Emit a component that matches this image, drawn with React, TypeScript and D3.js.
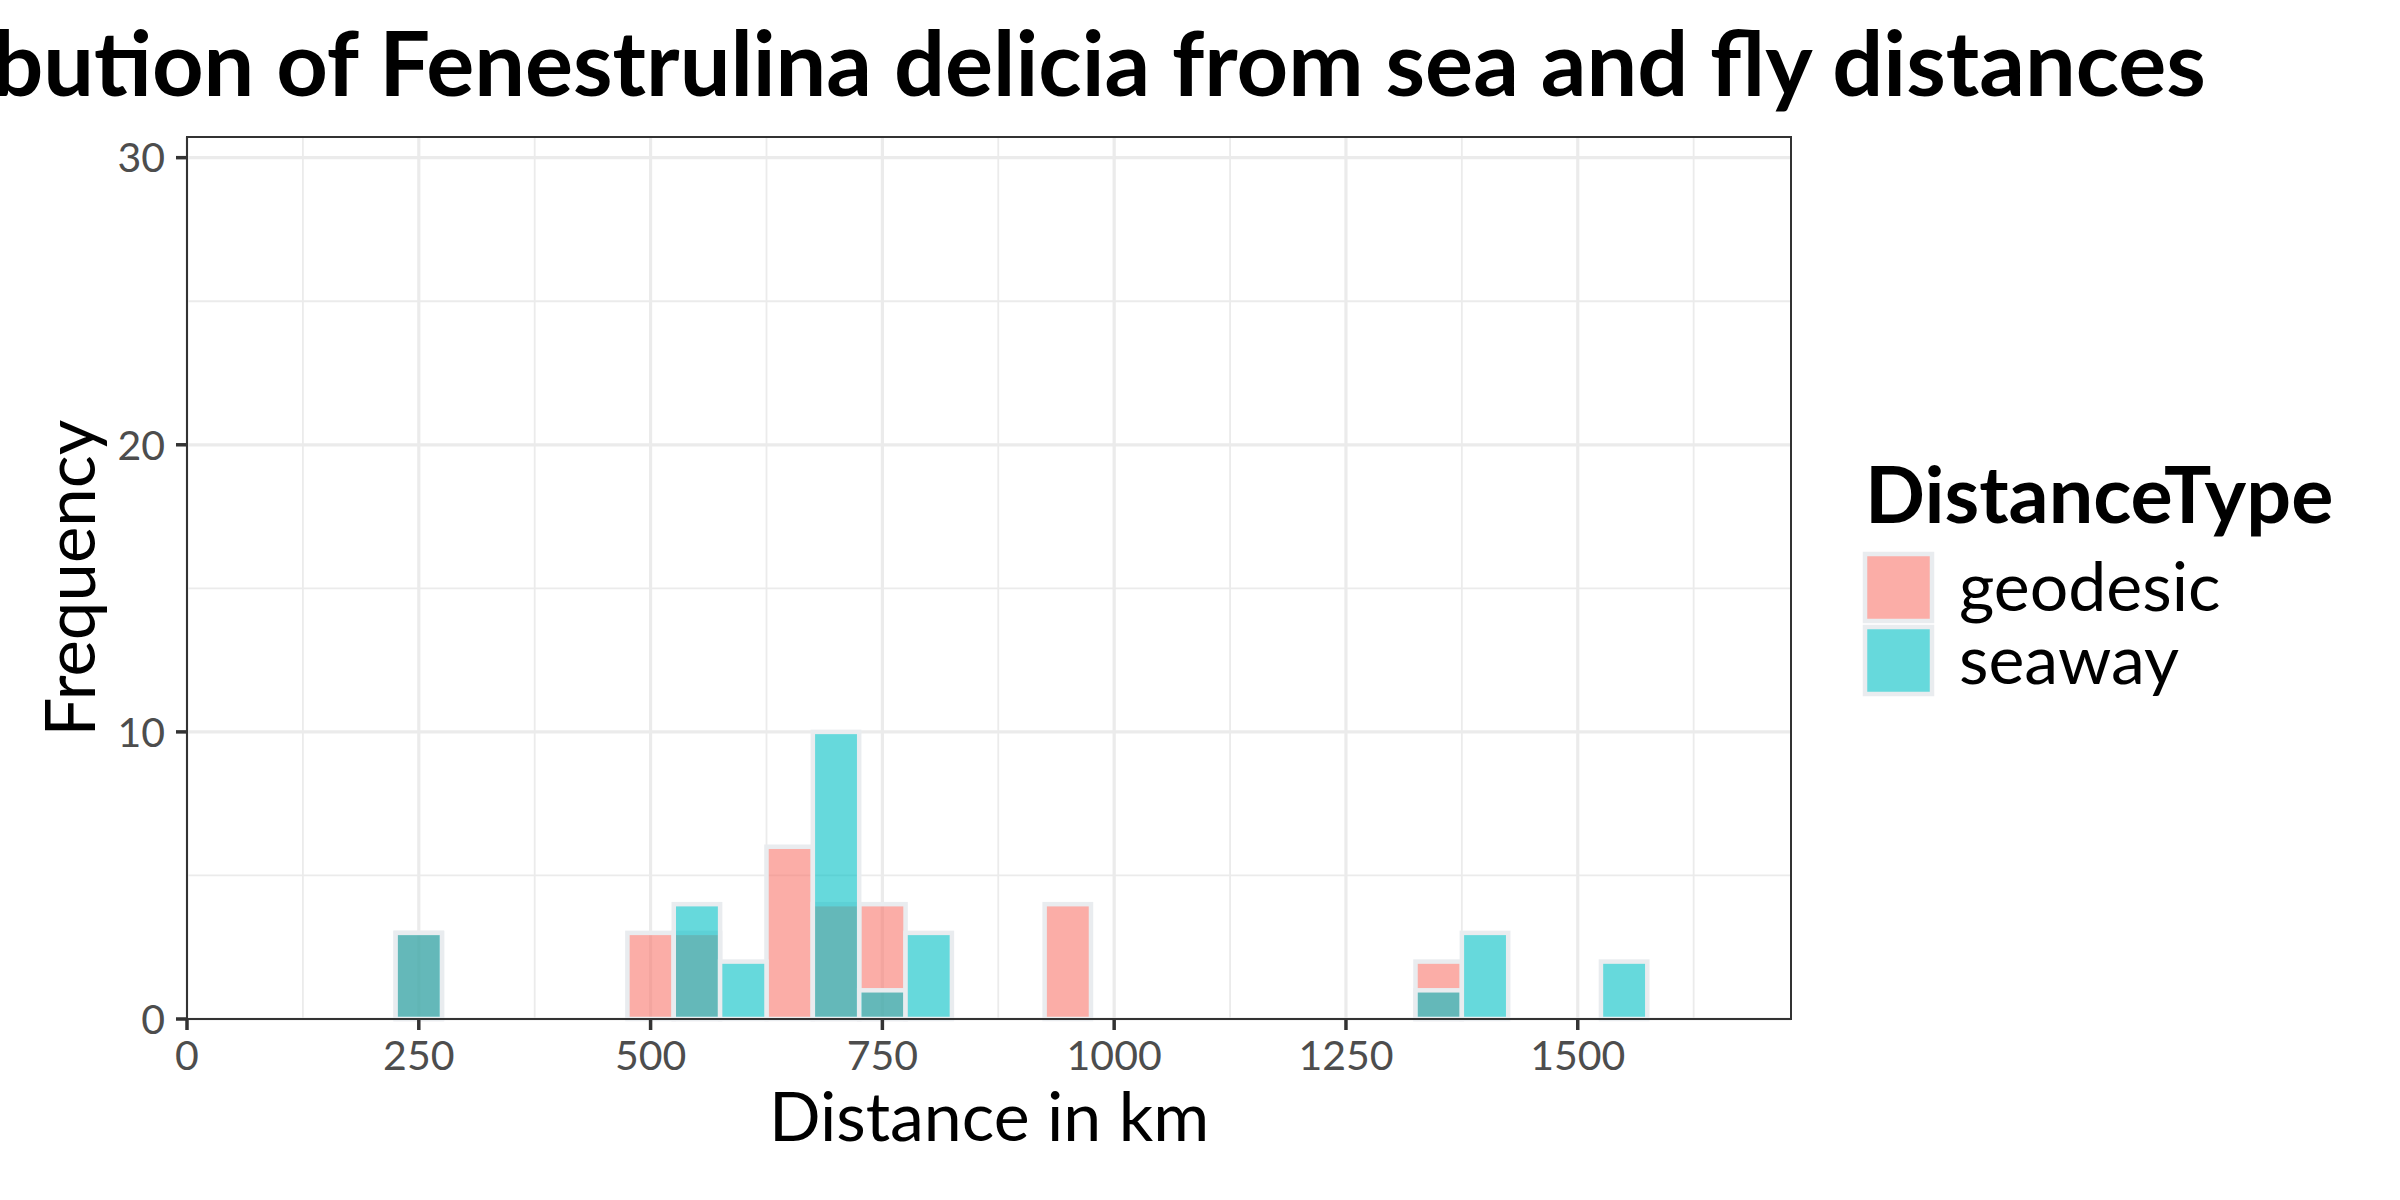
import * as d3 from "d3";

const binCenters = [250, 500, 550, 600, 650, 700, 750, 800, 950, 1350, 1400, 1550];
const geodesicCounts = [3, 3, 3, 0, 6, 4, 4, 0, 4, 2, 0, 0];
const seawayCounts = [3, 0, 4, 2, 0, 10, 1, 3, 0, 1, 3, 2];
const binWidth = 50;
const seriesNames = ["geodesic", "seaway"];
const seriesColors = ["#F8766D", "#00BFC4"];
const xTicks = [0, 250, 500, 750, 1000, 1250, 1500];
const yTicks = [0, 10, 20, 30];

const W = 2400;
const H = 1200;
const panel = { left: 187, right: 1791, top: 137, bottom: 1019 };
const font = "Lato, 'Noto Sans', sans-serif";

export default function App() {
  const x = d3.scaleLinear().domain([0, 1730]).range([panel.left, panel.right]);
  const y = d3.scaleLinear().domain([0, 30.72]).range([panel.bottom, panel.top]);
  const xMinor = d3.range(125, 1730, 250);
  const yMinor = [5, 15, 25];
  const color = d3.scaleOrdinal<string, string>().domain(seriesNames).range(seriesColors);
  const series = [
    { name: "geodesic", counts: geodesicCounts },
    { name: "seaway", counts: seawayCounts },
  ];
  const cx = (panel.left + panel.right) / 2;
  const cy = (panel.top + panel.bottom) / 2;

  return (
    <div style={{ position: "absolute", left: 0, top: 0 }}>
      <svg width={W} height={H} viewBox={`0 0 ${W} ${H}`} style={{ display: "block", background: "#fff" }}>
        <rect x={0} y={0} width={W} height={H} fill="#fff" />
        <text x={cx} y={96} textAnchor="middle" fontFamily={font} fontWeight={700} fontSize={90} fill="#000">
          Distribution of Fenestrulina delicia from sea and fly distances
        </text>

        {/* grid: minor first, then major */}
        <g>
          {yMinor.map((v) => (
            <line key={`ym${v}`} x1={panel.left} x2={panel.right} y1={y(v)} y2={y(v)} stroke="#EBEBEB" strokeWidth={1.8} />
          ))}
          {xMinor.map((v) => (
            <line key={`xm${v}`} y1={panel.top} y2={panel.bottom} x1={x(v)} x2={x(v)} stroke="#EBEBEB" strokeWidth={1.8} />
          ))}
          {yTicks.map((v) => (
            <line key={`yM${v}`} x1={panel.left} x2={panel.right} y1={y(v)} y2={y(v)} stroke="#EBEBEB" strokeWidth={3.2} />
          ))}
          {xTicks.map((v) => (
            <line key={`xM${v}`} y1={panel.top} y2={panel.bottom} x1={x(v)} x2={x(v)} stroke="#EBEBEB" strokeWidth={3.2} />
          ))}
        </g>

        {series.map((s) => (
          <g key={s.name}>
            {binCenters.map((c, i) =>
              s.counts[i] > 0 ? (
                <rect
                  key={c}
                  x={x(c - binWidth / 2)}
                  width={x(c + binWidth / 2) - x(c - binWidth / 2)}
                  y={y(s.counts[i])}
                  height={y(0) - y(s.counts[i])}
                  fill={color(s.name)}
                  fillOpacity={0.6}
                  stroke="#E9ECEF"
                  strokeWidth={4.5}
                />
              ) : null
            )}
          </g>
        ))}

        <rect
          x={panel.left}
          y={panel.top}
          width={panel.right - panel.left}
          height={panel.bottom - panel.top}
          fill="none"
          stroke="#333333"
          strokeWidth={2}
        />

        {xTicks.map((v) => (
          <g key={`xt${v}`}>
            <line x1={x(v)} x2={x(v)} y1={panel.bottom} y2={panel.bottom + 11} stroke="#333333" strokeWidth={3.5} />
            <text x={x(v)} y={1070} textAnchor="middle" fontFamily={font} fontSize={41} fill="#4D4D4D">
              {v}
            </text>
          </g>
        ))}
        {yTicks.map((v) => (
          <g key={`yt${v}`}>
            <line x1={panel.left - 11} x2={panel.left} y1={y(v)} y2={y(v)} stroke="#333333" strokeWidth={3.5} />
            <text x={165} y={y(v)} dy="0.36em" textAnchor="end" fontFamily={font} fontSize={41} fill="#4D4D4D">
              {v}
            </text>
          </g>
        ))}

        <text x={cx} y={1141} textAnchor="middle" fontFamily={font} fontSize={68} fill="#000">
          Distance in km
        </text>
        <text
          transform={`translate(95,${cy}) rotate(-90)`}
          textAnchor="middle"
          fontFamily={font}
          fontSize={69}
          fill="#000"
        >
          Frequency
        </text>

        <text x={1865} y={523} fontFamily={font} fontWeight={700} fontSize={79} fill="#000">
          DistanceType
        </text>
        {seriesNames.map((name, i) => (
          <g key={name}>
            <rect x={1865} y={554 + i * 73} width={67} height={67} fill="#fff" stroke="none" />
            <rect
              x={1865}
              y={554 + i * 73}
              width={67}
              height={67}
              fill={color(name)}
              fillOpacity={0.6}
              stroke="#E9ECEF"
              strokeWidth={4.5}
            />
            <text x={1959} y={611 + i * 73} fontFamily={font} fontSize={68} fill="#000">
              {name}
            </text>
          </g>
        ))}
      </svg>
    </div>
  );
}
